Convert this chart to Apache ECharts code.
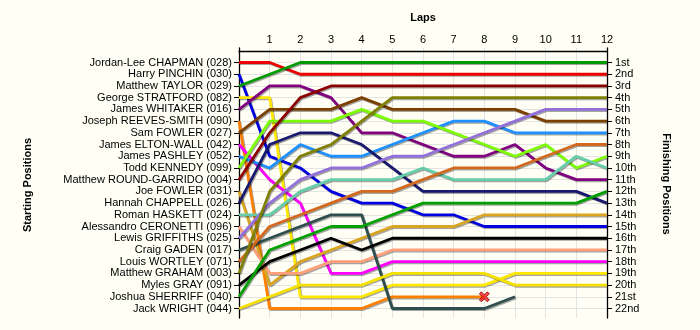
<!DOCTYPE html>
<html>
<head>
<meta charset="utf-8">
<script src="https://cdn.jsdelivr.net/npm/echarts@6/dist/echarts.min.js"></script>
<style>
html,body{margin:0;padding:0;background:#fffff6;}
#chart{width:700px;height:330px;}
</style>
</head>
<body>
<div id="chart"></div>
<script>
// ---- data ----
const laps = [0,1,2,3,4,5,6,7,8,9,10,11,12];
const drivers = [
  'Jordan-Lee CHAPMAN (028)','Harry PINCHIN (030)','Matthew TAYLOR (029)','George STRATFORD (082)',
  'James WHITAKER (016)','Joseph REEVES-SMITH (090)','Sam FOWLER (027)','James ELTON-WALL (042)',
  'James PASHLEY (052)','Todd KENNEDY (099)','Matthew ROUND-GARRIDO (004)','Joe FOWLER (031)',
  'Hannah CHAPPELL (026)','Roman HASKETT (024)','Alessandro CERONETTI (096)','Lewis GRIFFITHS (025)',
  'Craig GADEN (017)','Louis WORTLEY (071)','Matthew GRAHAM (003)','Myles GRAY (091)',
  'Joshua SHERRIFF (040)','Jack WRIGHT (044)'
];
const finishLabels = ['1st','2nd','3rd','4th','5th','6th','7th','8th','9th','10th','11th','12th',
  '13th','14th','15th','16th','17th','18th','19th','20th','21st','22nd'];
const lapTickLabels = ['','1','2','3','4','5','6','7','8','9','10','11','12'];

// position of each driver after each lap (lap 0 = start)
const chapman      = [1,1,2,2,2,2,2,2,2,2,2,2,2];
const pinchin      = [2,9,10,12,13,13,14,14,15,15,15,15,15];
const taylor       = [3,2,1,1,1,1,1,1,1,1,1,1,1];
const stratford    = [4,4,21,21,21,20,20,20,20,19,19,19,19];
const whitaker     = [5,3,3,4,7,7,8,9,9,8,10,11,11];
const reevesSmith  = [6,22,22,22,22,21,21,21,21,null,null,null,null];
const samFowler    = [7,5,5,5,4,5,5,5,5,5,6,6,6];
const eltonWall    = [8,11,13,19,19,18,18,18,18,18,18,18,18];
const pashley      = [9,10,8,9,9,8,7,6,6,7,7,7,7];
const kennedy      = [10,6,6,6,5,6,6,7,8,9,8,10,9];
const roundGarrido = [11,7,4,3,3,3,3,3,3,3,3,3,3];
const joeFowler    = [12,20,18,17,16,15,15,15,14,14,14,14,14];
const chappell     = [13,8,7,7,8,10,12,12,12,12,12,12,13];
const haskett      = [14,14,12,11,11,11,10,11,11,11,11,9,10];
const ceronetti    = [15,19,19,18,18,17,17,17,17,17,17,17,17];
const griffiths    = [16,13,11,10,10,9,9,8,7,6,5,5,5];
const gaden        = [17,16,15,14,14,22,22,22,22,21,null,null,null];
const wortley      = [18,15,14,13,12,12,11,10,10,10,9,8,8];
const graham       = [19,12,9,8,6,4,4,4,4,4,4,4,4];
const gray         = [20,18,17,16,17,16,16,16,16,16,16,16,16];
const sherriff     = [21,17,16,15,15,14,13,13,13,13,13,13,12];
const wright       = [22,21,20,20,20,19,19,19,19,20,20,20,20];

const positions = [chapman,pinchin,taylor,stratford,whitaker,reevesSmith,samFowler,eltonWall,
  pashley,kennedy,roundGarrido,joeFowler,chappell,haskett,ceronetti,griffiths,gaden,wortley,
  graham,gray,sherriff,wright];
const retiredWithMark = [5]; // driver index marked with a cross where the line stops

const colors = ['#ee0000','#0000e0','#009a00','#ffe800','#800080','#ff7f00','#7b3f00','#ff00ff',
  '#1e90ff','#7cfc00','#8b0000','#daa520','#191970','#66cdaa','#ffa07a','#9370db','#2f4f4f',
  '#d2691e','#808000','#000000','#00a000','#f5e000'];

// ---- chart ----
const font = 'Liberation Sans, Arial, sans-serif';
const posTicks = drivers.map((d,i)=>i+1);
const series = positions.map((arr, i) => ({
  name: drivers[i],
  type: 'line',
  xAxisIndex: 0, yAxisIndex: 0,
  symbol: 'none',
  z: 3,
  data: arr.map((p, lap) => p == null ? null : [laps[lap], p]).filter(v => v),
  lineStyle: {color: colors[i], width: 2.8, shadowColor: 'rgba(0,0,0,0.35)', shadowOffsetX: 1, shadowOffsetY: 1.2, shadowBlur: 0},
  itemStyle: {color: colors[i]},
  animation: false
}));
const crossPath = 'path://M0,2 L2,0 L5,3 L8,0 L10,2 L7,5 L10,8 L8,10 L5,7 L2,10 L0,8 L3,5 Z';
retiredWithMark.forEach(i => {
  const arr = positions[i];
  let last = -1;
  arr.forEach((p, lap) => { if (p != null) last = lap; });
  series.push({
    type: 'scatter', z: 5, animation: false,
    symbol: crossPath, symbolSize: 10,
    itemStyle: {color: '#ff1a1a', borderColor: '#800000', borderWidth: 1},
    data: [[laps[last], arr[last]]]
  });
});

const chart = echarts.init(document.getElementById('chart'));
chart.setOption({
  backgroundColor: '#fffff6',
  animation: false,
  grid: {left: 239, right: 93, top: 48, bottom: 12},
  xAxis: {
    type: 'value', position: 'top', min: 0, max: 12, interval: 1,
    name: 'Laps', nameLocation: 'middle', nameGap: 25,
    nameTextStyle: {fontFamily: font, fontSize: 11, fontWeight: 'bold', color: '#000'},
    axisLine: {lineStyle: {color: '#000', width: 1.3}},
    axisTick: {show: false},
    axisLabel: {fontFamily: font, fontSize: 11, color: '#000', margin: 3,
      formatter: v => lapTickLabels[v] || ''},
    splitLine: {show: true, lineStyle: {color: '#e4e4e4', width: 1}}
  },
  yAxis: [{
    type: 'value', position: 'left', inverse: true, min: -0.24, max: 22.81,
    axisLine: {show: true, lineStyle: {color: '#000', width: 1.3}},
    axisTick: {show: true, length: 5, lineStyle: {color: '#000'}, customValues: posTicks},
    axisLabel: {fontFamily: font, fontSize: 11, color: '#000', margin: 7, customValues: posTicks,
      formatter: v => drivers[v-1] || ''},
    splitLine: {show: true, lineStyle: {color: '#e4e4e4', width: 1}}
  }, {
    type: 'value', position: 'right', inverse: true, min: -0.24, max: 22.81,
    axisLine: {show: true, lineStyle: {color: '#000', width: 1.3}},
    axisTick: {show: true, length: 5, lineStyle: {color: '#000'}, customValues: posTicks},
    axisLabel: {fontFamily: font, fontSize: 11, color: '#000', margin: 8, customValues: posTicks,
      formatter: v => finishLabels[v-1] || ''},
    splitLine: {show: false}
  }],
  graphic: [
    {type: 'text', rotation: Math.PI/2,
      style: {text: 'Starting Positions', font: 'bold 11px ' + font, fill: '#000', align: 'center', verticalAlign: 'middle'},
      x: 28, y: 185},
    {type: 'text', rotation: -Math.PI/2,
      style: {text: 'Finishing Positions', font: 'bold 11px ' + font, fill: '#000', align: 'center', verticalAlign: 'middle'},
      x: 666, y: 184}
  ],
  series: series
});
</script>
</body>
</html>
